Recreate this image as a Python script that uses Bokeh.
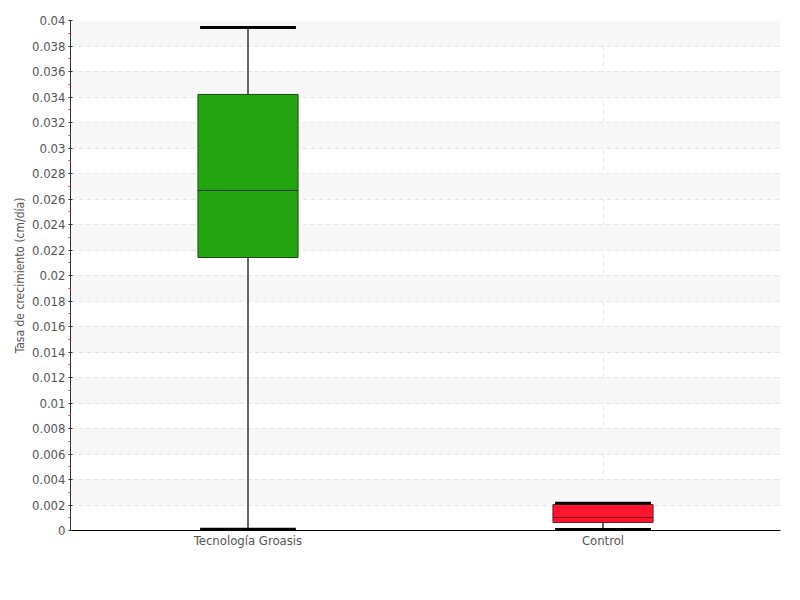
from bokeh.plotting import figure
from bokeh.models import FixedTicker, CustomJSTickFormatter, ColumnDataSource
from bokeh.transform import dodge
from bokeh.embed import file_html
from bokeh.resources import INLINE

categories = ["Tecnología Groasis", "Control"]
low = [0.0001, 0.00008]
q1 = [0.02141, 0.00063]
median = [0.02667, 0.00102]
q3 = [0.0342, 0.00204]
high = [0.03945, 0.00214]
fill_colors = ["#22a50f", "#ff1530"]
edge_colors = ["#1f4a17", "#6b1a22"]
median_colors = ["#0f3a08", "#7a0d18"]
y_ticks = [i * 0.002 for i in range(21)]
y_minor = [i * 0.002 + 0.001 for i in range(20)]

FONT = "DejaVu Sans Condensed, Roboto Condensed, Liberation Sans Narrow, Roboto"

src = ColumnDataSource(dict(cat=categories, low=low, q1=q1, median=median, q3=q3,
                            high=high, fill=fill_colors, edge=edge_colors, med=median_colors))

p = figure(x_range=categories, y_range=(0, 0.04), width=792, height=592,
           frame_width=710, frame_height=510,
           min_border_left=70, min_border_top=20, min_border_right=12, min_border_bottom=62,
           output_backend="svg", toolbar_location=None)
p.outline_line_color = None

# grids
p.ygrid.ticker = FixedTicker(ticks=y_ticks)
p.ygrid.grid_line_color = "#e6e6e6"
p.ygrid.grid_line_dash = "5 3"
p.ygrid.band_fill_color = "#f7f7f7"
p.ygrid.band_fill_alpha = 1.0
p.xgrid.grid_line_color = "#ececec"
p.xgrid.grid_line_dash = "5 3"

# y axis
p.yaxis.ticker = FixedTicker(ticks=y_ticks, minor_ticks=y_minor)
p.yaxis.formatter = CustomJSTickFormatter(code="return String(Math.round(tick*1000)/1000);")
p.yaxis.axis_label = "Tasa de crecimiento (cm/día)"
p.yaxis.axis_label_text_font = FONT
p.yaxis.axis_label_text_font_style = "normal"
p.yaxis.axis_label_text_font_size = "12px"
p.yaxis.axis_label_text_color = "#555555"
p.yaxis.axis_label_standoff = 2
p.yaxis.major_label_text_font = FONT
p.yaxis.major_label_text_font_size = "13px"
p.yaxis.major_label_text_color = "#555555"
p.yaxis.major_label_standoff = 3
p.yaxis.axis_line_color = "#333333"
p.yaxis.major_tick_line_color = "#333333"
p.yaxis.major_tick_in = 2
p.yaxis.major_tick_out = 2
p.yaxis.minor_tick_line_color = "#ff3333"
p.yaxis.minor_tick_in = 0
p.yaxis.minor_tick_out = 2

# x axis
p.xaxis.axis_line_color = "#000000"
p.xaxis.major_tick_line_color = None
p.xaxis.minor_tick_line_color = None
p.xaxis.major_tick_in = 0
p.xaxis.major_tick_out = 0
p.xaxis.major_label_text_font = FONT
p.xaxis.major_label_text_font_size = "13px"
p.xaxis.major_label_text_color = "#555555"
p.xaxis.major_label_standoff = 2

# whisker stems
p.segment(x0="cat", y0="low", x1="cat", y1="high", source=src,
          line_color="#666666", line_width=2)
# boxes
p.vbar(x="cat", bottom="q1", top="q3", width=0.282, source=src,
       fill_color="fill", line_color="edge", line_width=1)
# medians
p.segment(x0=dodge("cat", -0.141, range=p.x_range), x1=dodge("cat", 0.141, range=p.x_range),
          y0="median", y1="median", source=src, line_color="med", line_width=1)
# caps
for col in ("low", "high"):
    p.segment(x0=dodge("cat", -0.135, range=p.x_range), x1=dodge("cat", 0.135, range=p.x_range),
              y0=col, y1=col, source=src, line_color="#000000", line_width=3)

open("out.html", "w").write(file_html(p, INLINE))
